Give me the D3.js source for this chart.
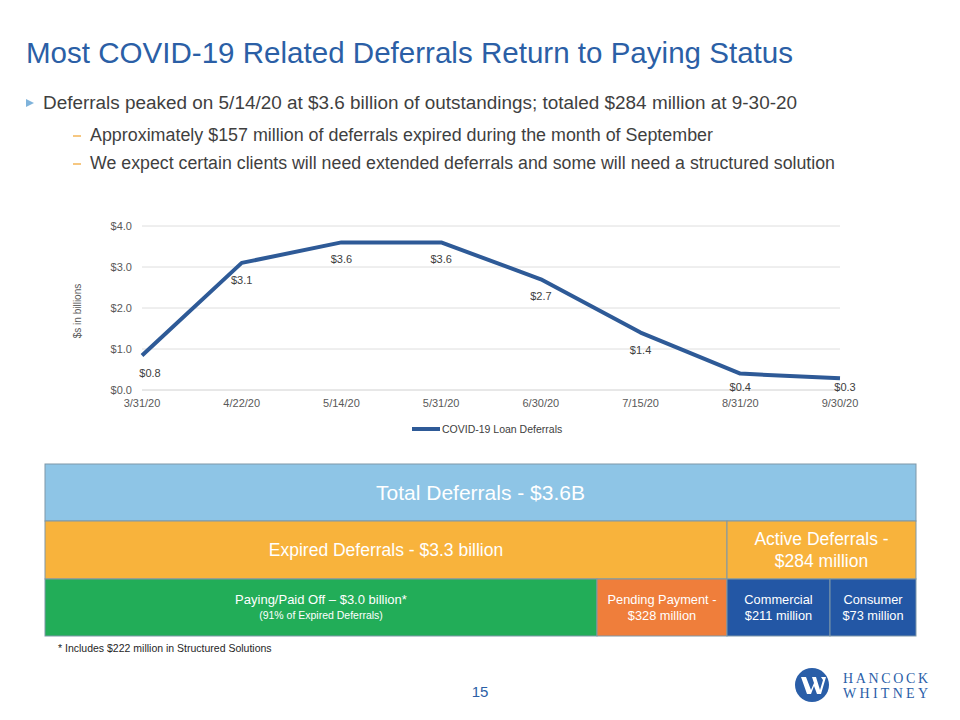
<!DOCTYPE html>
<html>
<head>
<meta charset="utf-8">
<script src="https://cdn.jsdelivr.net/npm/d3@7"></script>
<style>
  body { margin: 0; background: #fff; }
  text { font-family: "Liberation Sans", Arial, sans-serif; }
</style>
</head>
<body>
<div id="slide"></div>
<script>
// chart data
const dates = ["3/31/20", "4/22/20", "5/14/20", "5/31/20", "6/30/20", "7/15/20", "8/31/20", "9/30/20"]
const deferrals = [0.84, 3.1, 3.6, 3.6, 2.7, 1.4, 0.4, 0.284]
const yTicks = [0, 1, 2, 3, 4]
const seriesName = "COVID-19 Loan Deferrals"

// breakdown boxes (values in $ millions)
const totalDeferrals = 3600
const expiredDeferrals = 3316
const activeDeferrals = 284
const payingPaidOff = 2988
const pendingPayment = 328
const commercial = 211
const consumer = 73

const bullets = [
  "Deferrals peaked on 5/14/20 at $3.6 billion of outstandings; totaled $284 million at 9-30-20"
]
const subBullets = [
  "Approximately $157 million of deferrals expired during the month of September",
  "We expect certain clients will need extended deferrals and some will need a structured solution"
]

let width = 960
let height = 720
const blue = "#2b5fa6"

let svg = d3.select("#slide")
  .append("svg")
  .attr("width", width)
  .attr("height", height)

// stretch / squeeze text to a target width
function fit(sel, w) {
  return sel.attr("textLength", w).attr("lengthAdjust", "spacingAndGlyphs")
}

// title
fit(svg.append("text")
  .attr("x", 26)
  .attr("y", 63)
  .style("font-size", "29px")
  .attr("fill", blue)
  .text("Most COVID-19 Related Deferrals Return to Paying Status"), 767)

// bullets
svg.append("path")
  .attr("d", "M26,99 L34,103 L26,107 Z")
  .attr("fill", "#7fb3db")
fit(svg.append("text")
  .attr("x", 43).attr("y", 109)
  .style("font-size", "18px")
  .attr("fill", "#3f3f3f")
  .text(bullets[0]), 754)

subBullets.forEach((s, i) => {
  let y = 141 + i * 28
  svg.append("line")
    .attr("x1", 73).attr("x2", 81)
    .attr("y1", y - 5).attr("y2", y - 5)
    .attr("stroke", "#f0a22e")
    .attr("stroke-width", 1.2)
  fit(svg.append("text")
    .attr("x", 90).attr("y", y)
    .style("font-size", "18px")
    .attr("fill", "#3f3f3f")
    .text(s), i == 0 ? 623 : 745)
})

// ---- line chart ----
let x = d3.scalePoint().domain(dates).range([142, 840])
let y = d3.scaleLinear().domain([0, 4]).range([390, 226])

let chart = svg.append("g")

chart.append("g")
  .selectAll("line")
  .data(yTicks)
  .enter().append("line")
  .attr("x1", 142).attr("x2", 840)
  .attr("y1", d => y(d)).attr("y2", d => y(d))
  .attr("stroke", d => d == 0 ? "#d0d0d0" : "#dedede")
  .attr("stroke-width", 1)

chart.append("g")
  .selectAll("text")
  .data(yTicks)
  .enter().append("text")
  .attr("x", 132)
  .attr("y", d => y(d) + 4)
  .attr("text-anchor", "end")
  .style("font-size", "11px")
  .attr("fill", "#595959")
  .text(d => "$" + d.toFixed(1))

chart.append("g")
  .selectAll("text")
  .data(dates)
  .enter().append("text")
  .attr("x", d => x(d))
  .attr("y", 407)
  .attr("text-anchor", "middle")
  .style("font-size", "11px")
  .attr("fill", "#595959")
  .text(d => d)

chart.append("text")
  .attr("transform", "translate(81,311) rotate(-90)")
  .attr("text-anchor", "middle")
  .style("font-size", "10px")
  .attr("fill", "#595959")
  .text("$s in billions")

let line = d3.line()
  .x((d, i) => x(dates[i]))
  .y(d => y(d))

chart.append("path")
  .datum(deferrals)
  .attr("d", line)
  .attr("fill", "none")
  .attr("stroke", "#2e5a97")
  .attr("stroke-width", 4)
  .attr("stroke-linejoin", "round")

// data labels below the points
chart.append("g")
  .selectAll("text")
  .data(deferrals)
  .enter().append("text")
  .attr("x", (d, i) => x(dates[i]) + (i == 0 ? 8 : i == 7 ? 5 : 0))
  .attr("y", d => Math.min(y(d) + 21, 391))
  .attr("text-anchor", "middle")
  .style("font-size", "11px")
  .attr("fill", "#404040")
  .text(d => "$" + d.toFixed(1))

// legend
chart.append("line")
  .attr("x1", 412).attr("x2", 440)
  .attr("y1", 429).attr("y2", 429)
  .attr("stroke", "#2e5a97")
  .attr("stroke-width", 4)
chart.append("text")
  .attr("x", 442).attr("y", 433)
  .style("font-size", "10.5px")
  .attr("fill", "#404040")
  .text(seriesName)

// ---- deferral breakdown boxes ----
let left = 45, right = 916
let rows = [464, 521, 579, 636]
let expiredX = 727
let greenEnd = 597

let boxes = [
  { x0: left, x1: right, r: 0, fill: "#8ec5e6", lines: ["Total Deferrals - $" + (totalDeferrals / 1000).toFixed(1) + "B"], size: [21] },
  { x0: left, x1: expiredX, r: 1, fill: "#f8b33c", lines: ["Expired Deferrals - $" + (expiredDeferrals / 1000).toFixed(1) + " billion"], size: [17.5] },
  { x0: expiredX, x1: right, r: 1, fill: "#f8b33c", lines: ["Active Deferrals -", "$" + activeDeferrals + " million"], size: [17.5, 17.5] },
  { x0: left, x1: greenEnd, r: 2, fill: "#22ad58", lines: ["Paying/Paid  Off – $" + (payingPaidOff / 1000).toFixed(1) + " billion*", "(91% of Expired Deferrals)"], size: [13, 10.5] },
  { x0: greenEnd, x1: expiredX, r: 2, fill: "#ef7e3b", lines: ["Pending Payment -", "$" + pendingPayment + " million"], size: [12.8, 12.8] },
  { x0: expiredX, x1: 830, r: 2, fill: "#2357a5", lines: ["Commercial", "$" + commercial + " million"], size: [12.8, 12.8] },
  { x0: 830, x1: right, r: 2, fill: "#2357a5", lines: ["Consumer", "$" + consumer + " million"], size: [12.8, 12.8] }
]

let box = svg.append("g")
  .selectAll("g")
  .data(boxes)
  .enter().append("g")

box.append("rect")
  .attr("x", d => d.x0)
  .attr("y", d => rows[d.r])
  .attr("width", d => d.x1 - d.x0)
  .attr("height", d => rows[d.r + 1] - rows[d.r])
  .attr("fill", d => d.fill)
  .attr("stroke", "#7e97a8")
  .attr("stroke-width", 1)

box.each(function(d) {
  let g = d3.select(this)
  let cx = (d.x0 + d.x1) / 2
  let cy = (rows[d.r] + rows[d.r + 1]) / 2
  let n = d.lines.length
  let gap = d.size[0] >= 16 ? 22 : 16
  d.lines.forEach((t, i) => {
    g.append("text")
      .attr("x", cx)
      .attr("y", cy + (i - (n - 1) / 2) * gap + d.size[i] * 0.36)
      .attr("text-anchor", "middle")
      .style("font-size", d.size[i] + "px")
      .attr("fill", "#fff")
      .text(t)
  })
})

// footnote
svg.append("text")
  .attr("x", 58).attr("y", 652)
  .style("font-size", "10.5px")
  .attr("fill", "#262626")
  .text("* Includes $222 million in Structured Solutions")

// page number
svg.append("text")
  .attr("x", 480).attr("y", 697)
  .attr("text-anchor", "middle")
  .style("font-size", "15px")
  .attr("fill", blue)
  .text("15")

// logo
let logo = svg.append("g")
logo.append("circle")
  .attr("cx", 812).attr("cy", 685).attr("r", 17)
  .attr("fill", "#2a5ea8")
logo.append("path")
  .attr("d", "M801,677 L806,677 L811,690 L814,683 L812,677 L816,677 L820,690 L823,680 L821,677 L826,677 L821,694 L817,694 L814,686 L811,694 L807,694 Z")
  .attr("fill", "#fff")
logo.selectAll("text")
  .data(["HANCOCK", "WHITNEY"])
  .enter().append("text")
  .attr("x", 843)
  .attr("y", (d, i) => 683 + i * 15)
  .style("font-family", "'Liberation Serif', 'DejaVu Serif', serif")
  .style("font-size", "14px")
  .attr("fill", "#2a5ea8")
  .attr("textLength", 85)
  .attr("lengthAdjust", "spacing")
  .text(d => d)
</script>
</body>
</html>
